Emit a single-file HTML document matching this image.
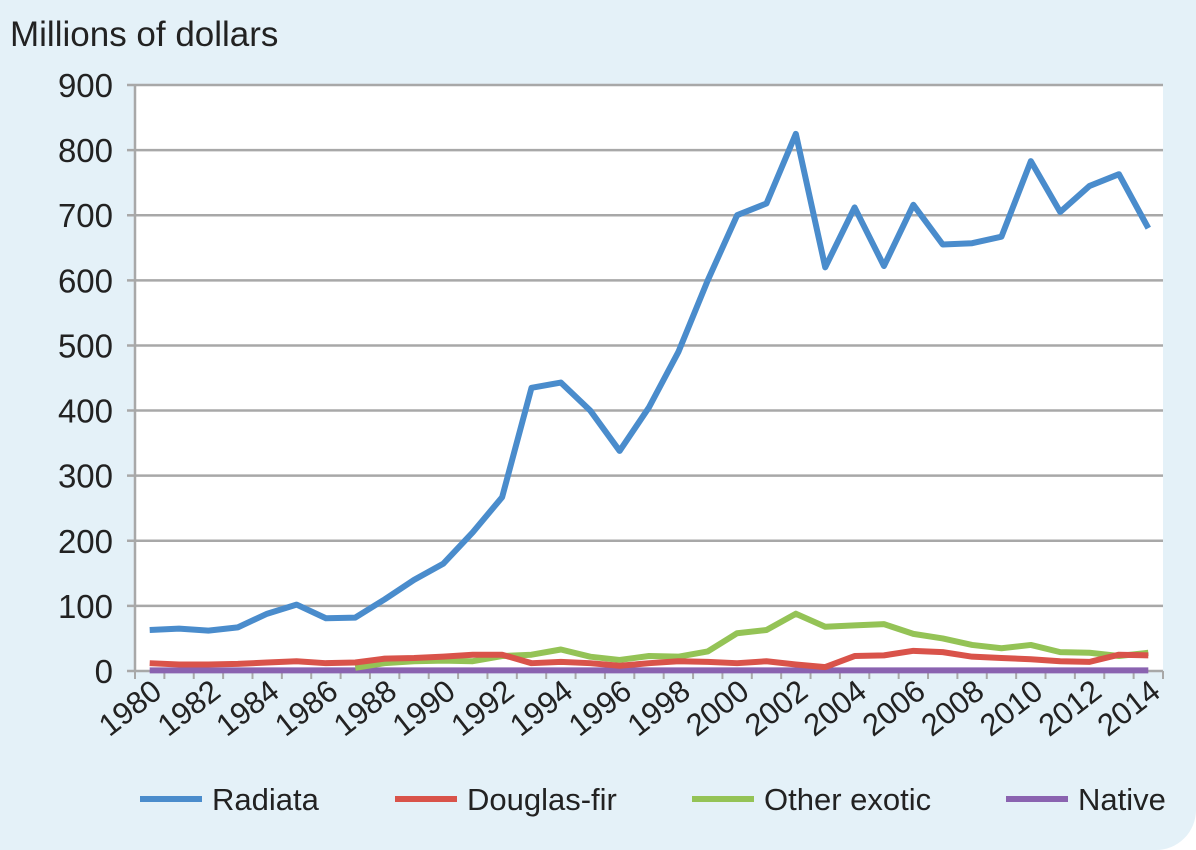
<!DOCTYPE html>
<html><head><meta charset="utf-8"><style>
body{margin:0;width:1196px;height:850px;overflow:hidden;background:#fff;font-family:"Liberation Sans Narrow","Liberation Sans",sans-serif}
#bg{position:absolute;left:0;top:0;width:1196px;height:850px;background:#e4f1f8;border-bottom-right-radius:40px}
text{font-family:"Liberation Sans Narrow","Liberation Sans",sans-serif}
</style></head><body>
<div id="bg"></div>
<svg id="chart" width="1196" height="850" style="position:absolute;left:0;top:0"></svg>
<script>
const years=[];for(let y=1980;y<=2014;y++)years.push(y);
const radiata=[63,65,62,67,88,102,81,82,110,140,165,213,267,435,443,400,338,405,490,600,700,718,825,620,712,622,716,655,657,667,783,705,745,763,680];
const douglas=[12,10,10,11,13,15,12,13,19,20,22,25,25,12,14,12,8,12,15,14,12,15,10,6,23,24,31,29,22,20,18,15,14,25,24];
const otherExotic=[null,null,null,null,null,null,null,5,12,15,16,15,23,25,33,22,17,23,22,30,58,63,88,68,70,72,57,50,40,35,40,29,28,23,28];
const native=[1,1,1,1,1,1,1,1,1,1,1,1,1,1,1,1,1,1,1,1,1,1,1,1,1,1,1,1,1,1,1,1,1,1,1];
const yTicks=[0,100,200,300,400,500,600,700,800,900];
const series=[{name:"Radiata",key:"radiata",data:radiata,color:"#4a8ccc"},{name:"Douglas-fir",key:"douglas-fir",data:douglas,color:"#d9534a"},{name:"Other exotic",key:"other-exotic",data:otherExotic,color:"#94c356"},{name:"Native",key:"native",data:native,color:"#8a63b0"}];
const svg=document.getElementById('chart');const NS="http://www.w3.org/2000/svg";
const L=135,R=1163,T=85,B=671;
const bw=(R-L)/years.length;
const x=i=>L+bw*(i+0.5);const y=v=>B-(v/900)*(B-T);
function el(t,a,p){const e=document.createElementNS(NS,t);for(const k in a)e.setAttribute(k,a[k]);(p||svg).appendChild(e);return e;}
const plot=el('rect',{x:L,y:T,width:R-L,height:B-T,fill:'#fff'});


const t0=el('text',{x:10,y:46,'font-size':35,fill:'#222'});t0.textContent="Millions of dollars";


yTicks.forEach(v=>{const g=el('line',{x1:L-8,x2:R,y1:y(v),y2:y(v),stroke:'#a8a8a8','stroke-width':2.5});


const t=el('text',{x:L-22,y:y(v)+12,'font-size':33,fill:'#222','text-anchor':'end'});t.textContent=v;

});
const ax=el('line',{x1:L,x2:L,y1:T,y2:B,stroke:'#a8a8a8','stroke-width':2.5});


for(let i=0;i<=years.length;i++){const tk=el('line',{x1:L+bw*i,x2:L+bw*i,y1:B,y2:B+8,stroke:'#a8a8a8','stroke-width':2});

}
years.forEach((yr,i)=>{if(yr%2)return;const cx=x(i)+14,cy=B+24;const t=el('text',{x:cx,y:cy,'font-size':31,fill:'#222','text-anchor':'end',transform:`rotate(-38 ${cx} ${cy})`});t.textContent=yr;

});
series.slice().reverse().forEach(s=>{let d='';let pen=false;s.data.forEach((v,i)=>{if(v==null){pen=false;return;}d+=(pen?'L':'M')+x(i)+' '+y(v);pen=true;});
const p=el('path',{d:d,fill:'none',stroke:s.color,'stroke-width':6,'stroke-linejoin':'round'});

});
const lx=[140,395,692,1006];
series.forEach((s,i)=>{const g=el('g',{});


el('line',{x1:lx[i],x2:lx[i]+62,y1:799,y2:799,stroke:s.color,'stroke-width':6},g);
const t=el('text',{x:lx[i]+72,y:810,'font-size':31,fill:'#222'},g);t.textContent=s.name;});
</script>
</body></html>
